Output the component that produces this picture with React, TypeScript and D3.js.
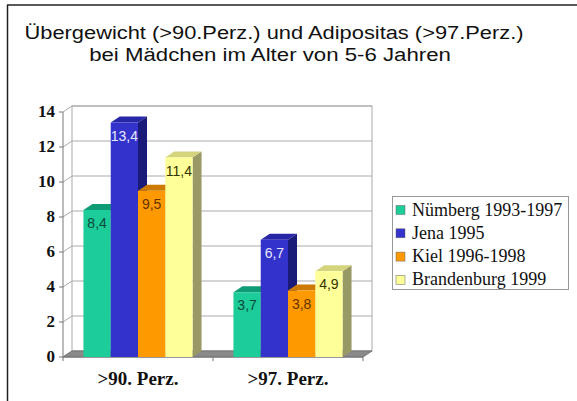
import * as d3 from "d3";
import { useEffect } from "react";

const categories = [">90. Perz.", ">97. Perz."];
const seriesNames = ["Nümberg 1993-1997", "Jena 1995", "Kiel 1996-1998", "Brandenburg 1999"];
const nuernberg = [8.4, 3.7];
const jena = [13.4, 6.7];
const kiel = [9.5, 3.8];
const brandenburg = [11.4, 4.9];
const yTicks = [0, 2, 4, 6, 8, 10, 12, 14];

const frontColors = ["#1ccc99", "#3333cc", "#ff9900", "#ffff99"];
const topColors = ["#0f9c74", "#2626a6", "#cc7a00", "#d4d47c"];
const sideColors = ["#0b7a5a", "#1a1a78", "#a86400", "#999966"];
const labelColors = ["#0a4a3a", "#e8e8ff", "#663300", "#333300"];

const App = () => {
  useEffect(() => {
    d3.select("#chart").selectAll("*").remove();

    const W = 577,
      H = 401;
    const left = 63,
      right = 363,
      bottom = 357,
      top = 112;
    const dx = 9,
      dy = 6;

    const svg = d3
      .select("#chart")
      .append("svg")
      .attr("width", W)
      .attr("height", H)
      .style("position", "absolute")
      .style("left", "0px")
      .style("top", "0px")
      .style("background", "#fff");

    // frame
    svg.append("line").attr("x1", 7).attr("x2", W).attr("y1", 5).attr("y2", 5).attr("stroke", "#222").attr("stroke-width", 1.5);
    svg.append("line").attr("x1", 7.5).attr("x2", 7.5).attr("y1", 5).attr("y2", H).attr("stroke", "#222").attr("stroke-width", 1.5);

    // title (slightly stretched horizontally like the original)
    const title = svg
      .append("g")
      .style("font-family", "'Liberation Sans', Arial, sans-serif")
      .style("font-size", "19px")
      .attr("fill", "#111");
    title
      .append("text")
      .attr("transform", "translate(274,39) scale(1.15,1)")
      .attr("text-anchor", "middle")
      .text("Übergewicht (>90.Perz.) und Adipositas (>97.Perz.)");
    title
      .append("text")
      .attr("transform", "translate(270,61) scale(1.17,1)")
      .attr("text-anchor", "middle")
      .text("bei Mädchen im Alter von 5-6 Jahren");

    const y = d3.scaleLinear().domain([0, 14]).range([bottom, top]);
    const x0 = d3.scaleBand().domain(categories).range([left, right]).padding(0);
    const x1 = d3
      .scaleBand()
      .domain(seriesNames)
      .range([0, x0.bandwidth()])
      .paddingInner(0)
      .paddingOuter(0.75);

    const wall = svg.append("g");
    // back wall
    wall
      .append("rect")
      .attr("x", left + dx)
      .attr("y", y(14) - dy)
      .attr("width", right - left)
      .attr("height", y(0) - y(14))
      .attr("fill", "#fff")
      .attr("stroke", "#aaa");
    // gridlines on back wall and side wall
    yTicks.forEach((t) => {
      wall
        .append("line")
        .attr("x1", left + dx)
        .attr("x2", right + dx)
        .attr("y1", y(t) - dy)
        .attr("y2", y(t) - dy)
        .attr("stroke", "#aaa");
      wall
        .append("line")
        .attr("x1", left)
        .attr("x2", left + dx)
        .attr("y1", y(t))
        .attr("y2", y(t) - dy)
        .attr("stroke", "#aaa");
    });
    // floor
    wall
      .append("polygon")
      .attr(
        "points",
        [
          [left, y(0)],
          [left + dx, y(0) - dy],
          [right + dx, y(0) - dy],
          [right, y(0)],
        ]
          .map((p) => p.join(","))
          .join(" ")
      )
      .attr("fill", "#8a8a8a")
      .attr("stroke", "#777");

    // axes
    const axis = svg.append("g").attr("stroke", "#777");
    axis.append("line").attr("x1", left).attr("x2", left).attr("y1", y(14)).attr("y2", y(0));
    axis.append("line").attr("x1", left).attr("x2", right).attr("y1", y(0)).attr("y2", y(0));
    yTicks.forEach((t) => {
      axis.append("line").attr("x1", left - 4).attr("x2", left).attr("y1", y(t)).attr("y2", y(t));
    });
    [left, left + x0.bandwidth(), right].forEach((xx) => {
      axis.append("line").attr("x1", xx).attr("x2", xx).attr("y1", y(0)).attr("y2", y(0) + 4);
    });

    const yLabels = svg
      .append("g")
      .style("font-family", "'Liberation Serif', 'Times New Roman', serif")
      .style("font-size", "17px")
      .style("font-weight", "bold")
      .attr("fill", "#111");
    yTicks.forEach((t) => {
      yLabels.append("text").attr("x", 55).attr("y", y(t) + 5).attr("text-anchor", "end").text(t);
    });
    const xLabels = svg
      .append("g")
      .style("font-family", "'Liberation Serif', 'Times New Roman', serif")
      .style("font-size", "19px")
      .style("font-weight", "bold")
      .attr("fill", "#111");
    categories.forEach((c) => {
      xLabels
        .append("text")
        .attr("x", x0(c)! + x0.bandwidth() / 2)
        .attr("y", 385)
        .attr("text-anchor", "middle")
        .text(c);
    });

    // bars
    const series = [nuernberg, jena, kiel, brandenburg];
    const bars = svg.append("g");
    const pts = (p: number[][]) => p.map((q) => q.join(",")).join(" ");
    categories.forEach((c, ci) => {
      series.forEach((vals, si) => {
        const v = vals[ci];
        const bx = x0(c)! + x1(seriesNames[si])!;
        const bw = x1.bandwidth();
        const yt = y(v);
        const yb = y(0);
        bars
          .append("polygon")
          .attr("points", pts([[bx + bw, yt], [bx + bw + dx, yt - dy], [bx + bw + dx, yb - dy], [bx + bw, yb]]))
          .attr("fill", sideColors[si]);
        bars
          .append("polygon")
          .attr("points", pts([[bx, yt], [bx + dx, yt - dy], [bx + bw + dx, yt - dy], [bx + bw, yt]]))
          .attr("fill", topColors[si]);
        bars
          .append("rect")
          .attr("x", bx)
          .attr("y", yt)
          .attr("width", bw)
          .attr("height", yb - yt)
          .attr("fill", frontColors[si]);
        bars
          .append("text")
          .attr("x", bx + bw / 2)
          .attr("y", yt + 18)
          .attr("text-anchor", "middle")
          .style("font-family", "'Liberation Sans', Arial, sans-serif")
          .style("font-size", "14px")
          .attr("fill", labelColors[si])
          .text(String(v).replace(".", ","));
      });
    });

    // legend
    const legend = svg.append("g");
    legend
      .append("rect")
      .attr("x", 392.5)
      .attr("y", 196.5)
      .attr("width", 176)
      .attr("height", 93)
      .attr("fill", "#fff")
      .attr("stroke", "#999");
    seriesNames.forEach((name, i) => {
      const ly = 210 + i * 23.3;
      legend
        .append("rect")
        .attr("x", 396)
        .attr("y", ly - 4.5)
        .attr("width", 9)
        .attr("height", 9)
        .attr("fill", frontColors[i])
        .attr("stroke", "#666")
        .attr("stroke-width", 0.5);
      legend
        .append("text")
        .attr("x", 412)
        .attr("y", ly + 5.5)
        .style("font-family", "'Liberation Serif', 'Times New Roman', serif")
        .style("font-size", "18px")
        .attr("fill", "#111")
        .text(name);
    });
  }, []);

  return <div id="chart" />;
};

export default App;
